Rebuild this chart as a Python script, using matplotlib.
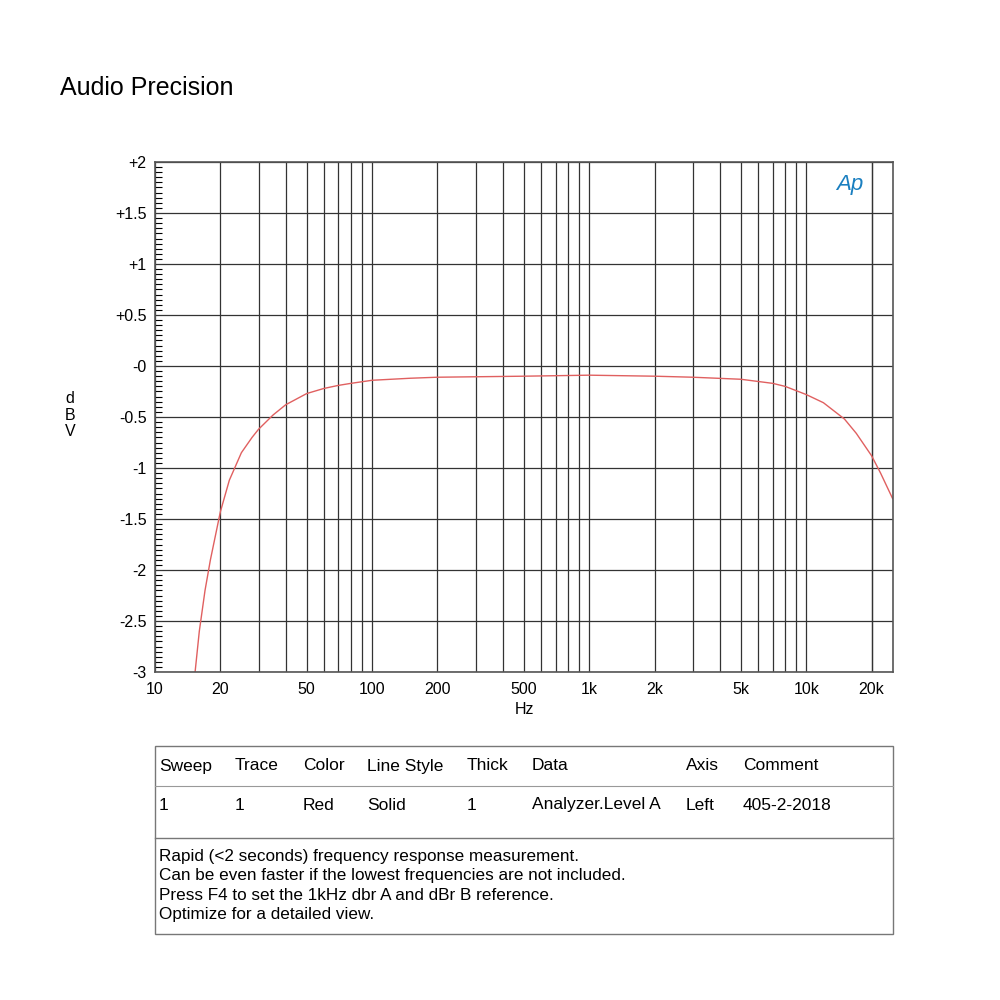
import numpy as np
import matplotlib.pyplot as plt
from matplotlib.ticker import FixedLocator, MultipleLocator

freq_hz = [15.3, 16, 17, 18, 20, 22, 25, 28, 30, 35, 40, 50, 60, 70, 80, 100, 150, 200, 500,
           1000, 2000, 3000, 5000, 7000, 8000, 10000, 12000, 15000, 17000, 20000, 22000, 25000]
level_dbv = [-3.0, -2.6, -2.2, -1.9, -1.43, -1.12, -0.85, -0.7, -0.62, -0.48, -0.38, -0.27, -0.22,
             -0.19, -0.17, -0.14, -0.12, -0.11, -0.1, -0.09, -0.1, -0.11, -0.13, -0.17, -0.2,
             -0.28, -0.36, -0.52, -0.66, -0.88, -1.05, -1.3]

x_ticks = [10, 20, 50, 100, 200, 500, 1000, 2000, 5000, 10000, 20000]
x_labels = ['10', '20', '50', '100', '200', '500', '1k', '2k', '5k', '10k', '20k']
y_ticks = [-3, -2.5, -2, -1.5, -1, -0.5, 0, 0.5, 1, 1.5, 2]
y_labels = ['-3', '-2.5', '-2', '-1.5', '-1', '-0.5', '-0', '+0.5', '+1', '+1.5', '+2']

table_head = ['Sweep', 'Trace', 'Color', 'Line Style', 'Thick', 'Data', 'Axis', 'Comment']
table_row = ['1', '1', 'Red', 'Solid', '1', 'Analyzer.Level A', 'Left', '405-2-2018']
col_x = [159, 235, 303, 367, 467, 532, 686, 743]
notes = ['Rapid (<2 seconds) frequency response measurement.',
         'Can be even faster if the lowest frequencies are not included.',
         'Press F4 to set the 1kHz dbr A and dBr B reference.',
         'Optimize for a detailed view.']

plt.rcParams['font.family'] = ['Liberation Sans', 'DejaVu Sans']
fig = plt.figure(figsize=(10, 10), dpi=100)
W = H = 1000.0

fig.text(60 / W, 1 - 88 / H, 'Audio Precision', fontsize=18, va='center')

ax = fig.add_axes([155 / W, 1 - 672 / H, 738 / W, 510 / H])
ax.semilogx(freq_hz, level_dbv, color='#e06060', lw=1)
ax.set_xlim(10, 25100)
ax.set_ylim(-3, 2)
grid_x = [v * d for d in [10, 100, 1000, 10000] for v in range(1, 10)] + [20000]
for g in grid_x:
    ax.axvline(g, color='#333333', lw=0.9, zorder=0)
for g in y_ticks:
    ax.axhline(g, color='#333333', lw=0.9, zorder=0)
ax.xaxis.set_major_locator(FixedLocator(x_ticks))
ax.set_xticklabels(x_labels)
ax.xaxis.set_minor_locator(FixedLocator([]))
ax.set_yticks(y_ticks)
ax.set_yticklabels(y_labels)
ax.yaxis.set_minor_locator(MultipleLocator(0.05))
ax.tick_params(axis='y', which='minor', direction='in', length=5, width=0.8)
ax.tick_params(axis='y', which='major', direction='in', length=0, labelsize=11.5, pad=6)
ax.tick_params(axis='x', length=0, labelsize=11.5, pad=7)
for s in ax.spines.values():
    s.set_color('#555555')
    s.set_linewidth(1.2)
ax.set_xlabel('Hz', fontsize=11.5, labelpad=4)
fig.text(70 / W, 1 - 415 / H, 'd\nB\nV', fontsize=11.5, ha='center', va='center', linespacing=1.1)
ax.text(0.96, 0.955, 'Ap', transform=ax.transAxes, color='#1a7fc0', fontsize=16,
        style='italic', ha='right', va='center')

# table boxes
tb = fig.add_axes([0, 0, 1, 1], facecolor='none')
tb.set_xlim(0, W)
tb.set_ylim(H, 0)
tb.axis('off')
tb.add_patch(plt.Rectangle((155, 746), 738, 188, fill=False, ec='#777777', lw=1))
tb.plot([155, 893], [786, 786], color='#999999', lw=0.8)
tb.plot([155, 893], [838, 838], color='#777777', lw=1)
for x, h, r in zip(col_x, table_head, table_row):
    tb.text(x, 766, h, fontsize=12.5, va='center')
    tb.text(x, 805, r, fontsize=12.5, va='center')
for i, line in enumerate(notes):
    tb.text(159, 856 + i * 19.5, line, fontsize=12.3, va='center')

fig.savefig('out.png')
